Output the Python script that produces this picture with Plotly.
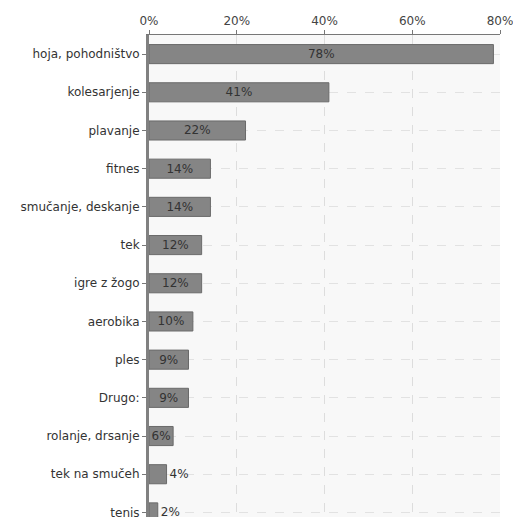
import plotly.graph_objects as go

categories = ["hoja, pohodništvo", "kolesarjenje", "plavanje", "fitnes", "smučanje, deskanje",
              "tek", "igre z žogo", "aerobika", "ples", "Drugo:", "rolanje, drsanje",
              "tek na smučeh", "tenis"]
values = [78.5, 41, 22, 14, 14, 12, 12, 10, 9, 9, 5.5, 4, 2]
labels = ["78%", "41%", "22%", "14%", "14%", "12%", "12%", "10%", "9%", "9%", "6%", "4%", "2%"]
tick_vals = [0, 20, 40, 60, 80]
tick_text = ["0%", "20%", "40%", "60%", "80%"]

positions = ["inside"] * 11 + ["outside", "outside"]

fig = go.Figure(go.Bar(
    y=categories, x=values, orientation="h", width=0.5,
    marker=dict(color="#858585", line=dict(color="#6a6a6a", width=1)),
    text=labels, textposition=positions, insidetextanchor="middle",
    constraintext="none",
    textfont=dict(family="DejaVu Sans", size=12, color="#333333"),
    outsidetextfont=dict(family="DejaVu Sans", size=12, color="#333333"),
    cliponaxis=False,
))

fig.update_layout(
    width=513, height=520,
    margin=dict(l=149, r=13, t=35, b=0),
    paper_bgcolor="white", plot_bgcolor="#f8f8f8",
    showlegend=False,
    font=dict(family="DejaVu Sans", size=12, color="#333333"),
)
fig.update_xaxes(
    side="top", range=[0, 80], tickvals=tick_vals, ticktext=tick_text,
    ticklabeloverflow="allow",
    showline=True, linecolor="#777777", linewidth=1,
    ticks="outside", ticklen=4, tickcolor="#777777",
    showgrid=True, gridcolor="#dddddd", griddash="dash", gridwidth=1,
    zeroline=False, tickfont=dict(size=12, color="#444444"),
)
fig.update_yaxes(
    categoryorder="array", categoryarray=categories,
    range=[12.12, -0.5],
    showline=True, linecolor="#808080", linewidth=3,
    ticks="outside", ticklen=4, tickcolor="#777777",
    showgrid=True, gridcolor="#e2e2e2", griddash="dash", gridwidth=1,
    tickfont=dict(size=12, color="#333333"),
)

fig.write_html("out.html")
